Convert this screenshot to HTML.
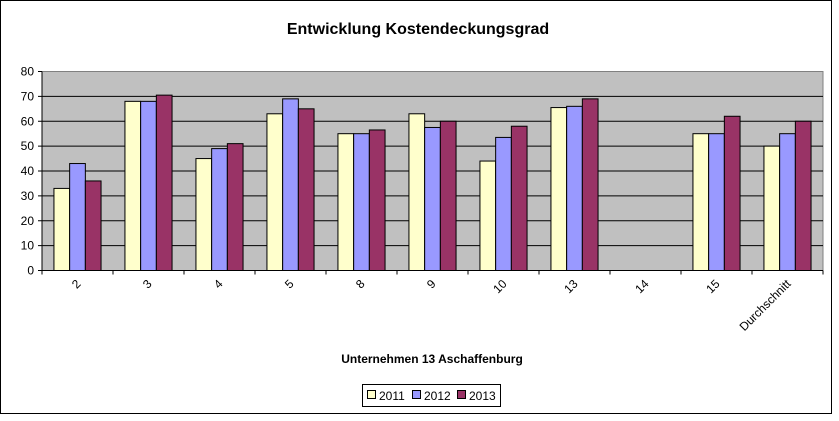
<!DOCTYPE html>
<html><head><meta charset="utf-8"><style>
body{margin:0;background:#fff;font-family:"Liberation Sans",Arial,sans-serif}
svg text{font-family:"Liberation Sans",Arial,sans-serif}
</style></head><body>
<svg width="839" height="416" xmlns="http://www.w3.org/2000/svg" id="chart">
<rect x="0.5" y="0.5" width="831" height="413" fill="#fff" stroke="#000"/>
<text x="418" y="34" text-anchor="middle" font-size="16" font-weight="bold">Entwicklung Kostendeckungsgrad</text>
<g id="plot"></g>
<text x="432" y="363" text-anchor="middle" font-size="12" font-weight="bold">Unternehmen 13 Aschaffenburg</text>
<g>
<rect x="362.5" y="384.5" width="138" height="22" fill="#fff" stroke="#000"/>
<g><rect x="367.5" y="390.5" width="8" height="8" fill="#FFFFCC" stroke="#000"/><text x="379" y="400" font-size="12">2011</text></g>
<g><rect x="412.5" y="390.5" width="8" height="8" fill="#9999FF" stroke="#000"/><text x="424" y="400" font-size="12">2012</text></g>
<g><rect x="457.5" y="390.5" width="8" height="8" fill="#993366" stroke="#000"/><text x="469" y="400" font-size="12">2013</text></g>
</g>
</svg>
<script>
const categories=["2","3","4","5","8","9","10","13","14","15","Durchschnitt"];
const s2011=[33,68,45,63,55,63,44,65.5,null,55,50];
const s2012=[43,68,49,69,55,57.5,53.5,66,null,55,55];
const s2013=[36,70.5,51,65,56.5,60,58,69,null,62,60];
const yTicks=[0,10,20,30,40,50,60,70,80];
const series=[{name:"2011",vals:s2011,color:"#FFFFCC"},{name:"2012",vals:s2012,color:"#9999FF"},{name:"2013",vals:s2013,color:"#993366"}];
const L=42,R=823,T=71.5,B=270.5,yMax=80;
const NS="http://www.w3.org/2000/svg";
const g=document.getElementById('plot');
const bw=(R-L)/categories.length;
function y(v){return B-(v/yMax)*(B-T);}
function x(i){return L+i*bw;}
function mk(t,a){const e=document.createElementNS(NS,t);for(const k in a)e.setAttribute(k,a[k]);g.appendChild(e);return e;}
let bg=mk('rect',{x:L,y:T,width:R-L,height:B-T,fill:'#C0C0C0',stroke:'#808080'});


yTicks.forEach(t=>{
  if(t>0&&t<yMax){let l=mk('line',{x1:L,x2:R,y1:y(t),y2:y(t),stroke:'#000'});
  
  }
  let tk=mk('line',{x1:L-4,x2:L,y1:y(t),y2:y(t),stroke:'#000'});
  
  
  let tx=mk('text',{x:L-8,y:y(t)+4,'text-anchor':'end','font-size':12});
  tx.textContent=t;
  
  
});
const barW=15.7,off=(bw-3*barW)/2;
categories.forEach((c,i)=>{
  series.forEach((s,j)=>{
    const v=s.vals[i];if(v==null)return;
    let r=mk('rect',{x:x(i)+off+j*barW,y:y(v),width:barW,height:B-y(v),fill:s.color,stroke:'#000'});
    
    
  });
  let tk=mk('line',{x1:x(i),x2:x(i),y1:B,y2:B+4,stroke:'#000'});
  
  
  const cx=x(i)+bw/2;
  let tx=mk('text',{x:cx+4,y:B+14,'text-anchor':'end','font-size':12,transform:`rotate(-45 ${cx+4} ${B+14})`});
  tx.textContent=c;
  
  
});
let lt=mk('line',{x1:R,x2:R,y1:B,y2:B+4,stroke:'#000'});


let ax=mk('line',{x1:L,x2:R,y1:B,y2:B,stroke:'#000'});


let ay=mk('line',{x1:L,x2:L,y1:T,y2:B,stroke:'#000'});


</script>
</body></html>
